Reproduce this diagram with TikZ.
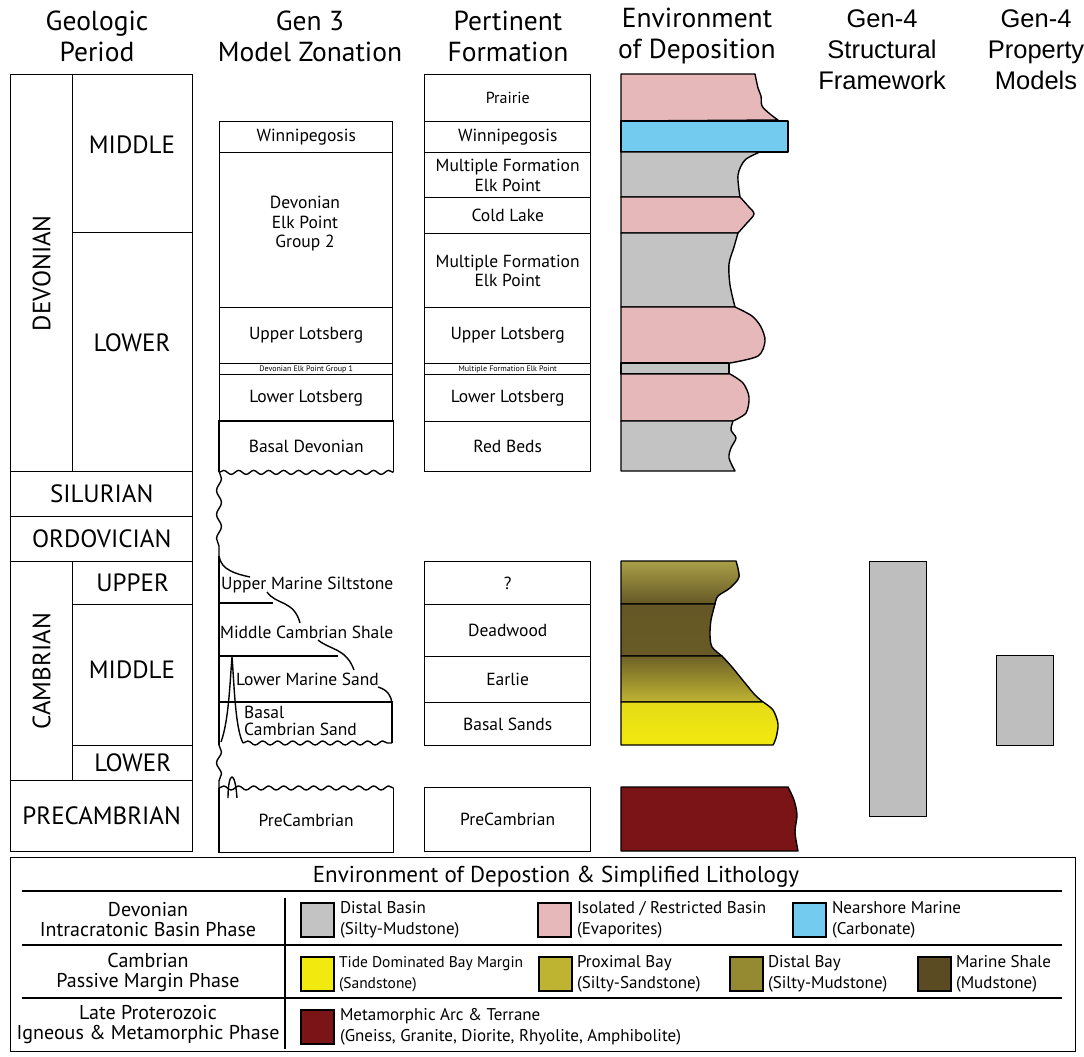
\documentclass[tikz,border=0pt]{standalone}
\usepackage{fontspec}
\setmainfont{PT Sans}
\newfontfamily\arialfont{Liberation Sans}
\usepackage{xcolor}
\definecolor{cGrey}{HTML}{C4C3C3}
\definecolor{cPink}{HTML}{E6B8BA}
\definecolor{cBlue}{HTML}{74CBF0}
\definecolor{cSand}{HTML}{F2E90F}
\definecolor{cProx}{HTML}{BFB432}
\definecolor{cDistBay}{HTML}{958A32}
\definecolor{cShale}{HTML}{5A4B23}
\definecolor{cMeta}{HTML}{7A1416}
\definecolor{cGenFour}{HTML}{BEBEBE}
\usetikzlibrary{positioning,decorations.pathmorphing}
\newcommand\fsize[2]{\fontsize{#1}{#2}\selectfont}
\tikzset{
  cell/.style={draw,line width=1.4pt,anchor=north west,inner sep=0pt,
    align=center,font=\fsize{17.5}{19.5}},
  period-cell/.style={cell,font=\fsize{25}{29}},
  period-label/.style={font=\fsize{25}{29}},
  col-header/.style={align=center,font=\fsize{27.5}{31}},
  gen-header/.style={align=center,font=\arialfont\fsize{25.5}{31}},
  env-band/.style={draw,line width=1.4pt,line join=round},
  contact/.style={line width=1.4pt},
  wavy/.style={line width=1.4pt,decorate,
    decoration={snake,amplitude=2pt,segment length=15pt}},
  legend-swatch/.style={draw,line width=1.8pt,anchor=north west,
    minimum width=33,minimum height=34,inner sep=0pt},
  legend-text/.style={anchor=west,align=left,inner sep=0pt,font=\fsize{17}{21}},
  legend-text-small/.style={legend-text,font=\fsize{15.5}{21}},
  phase-text/.style={align=center,font=\fsize{20}{20}},
}
\begin{document}
\begin{tikzpicture}[x=1pt,y=-1pt]
  \useasboundingbox (0,0) rectangle (1084,1057);

  % column headers
  \node[col-header] (h-period) at (97,36) {Geologic\\Period};
  \node[col-header] (h-gen3) at (310,36) {Gen 3\\Model Zonation};
  \node[col-header] (h-form) at (508,36) {Pertinent\\Formation};
  \node[col-header] (h-env) at (697,36) {Environment\\of Deposition};
  \begin{scope}
    \clip (800,0) rectangle (945,110);
    \node[gen-header] (h-struct) at (882,50) {Gen-4\\Structural\\Framework};
  \end{scope}
  \node[gen-header] (h-prop) at (1036,50) {Gen-4\\Property\\Models};

  % geologic period
  \node[period-cell,minimum width=62,minimum height=397] (devonian) at (10,74) {};
  \node[period-label,rotate=90] (devonian-lbl) at (devonian.center) {DEVONIAN};
  \node[period-cell,minimum width=120,minimum height=158] (dev-mid) at (72,74) {};
  \node[period-label] (dev-mid-lbl) at (132,145) {MIDDLE};
  \node[period-cell,minimum width=120,minimum height=239] (dev-low) at (72,232) {};
  \node[period-label] (dev-low-lbl) at (132,343) {LOWER};
  \node[period-cell,minimum width=182,minimum height=45] (silurian) at (10,471) {SILURIAN};
  \node[period-cell,minimum width=182,minimum height=45] (ordovician) at (10,516) {ORDOVICIAN};
  \node[period-cell,minimum width=62,minimum height=219] (cambrian) at (10,561) {};
  \node[period-label,rotate=90] (cambrian-lbl) at (cambrian.center) {CAMBRIAN};
  \node[period-cell,minimum width=120,minimum height=43] (camb-up) at (72,561) {UPPER};
  \node[period-cell,minimum width=120,minimum height=141] (camb-mid) at (72,604) {};
  \node[period-label] (camb-mid-lbl) at (132,670) {MIDDLE};
  \node[period-cell,minimum width=120,minimum height=35] (camb-low) at (72,745) {LOWER};
  \node[period-cell,minimum width=182,minimum height=71] (precambrian) at (10,780) {PRECAMBRIAN};

  % gen 3 model zonation
  \node[cell,minimum width=173,minimum height=31] (g3-winni) at (219,121) {Winnipegosis};
  \node[cell,minimum width=173,minimum height=155] (g3-ep2) at (219,152) {};
  \node[align=center,font=\fsize{17.5}{19.5}] (g3-ep2-lbl) at (305,224) {Devonian\\Elk Point\\Group 2};
  \node[cell,minimum width=173,minimum height=56] (g3-ulots) at (219,307) {Upper Lotsberg};
  \node[cell,minimum width=173,minimum height=11,font=\fsize{8}{9}] (g3-ep1) at (219,363) {Devonian Elk Point Group 1};
  \node[cell,minimum width=173,minimum height=47] (g3-llots) at (219,374) {Lower Lotsberg};
  \node[cell,draw=none,minimum width=173,minimum height=50] (g3-basal) at (219,421) {Basal Devonian};
  \draw[contact] (g3-basal.south west) -- (g3-basal.north west) -- (g3-basal.north east) -- (g3-basal.south east);
  \draw[wavy] (g3-basal.south west) -- (g3-basal.south east);
  % onlapping cambrian units
  \draw[wavy,decoration={amplitude=2.5pt,segment length=24pt}] (219,471) -- (219,556);
  \draw[contact] (219,556) -- (219,745);
  \draw[contact] (219,556) .. controls (221,570) and (236,574) .. (250,577);
  \draw[contact] (267,592) .. controls (276,605) and (294,600) .. (300,623);
  \draw[contact] (318,640) .. controls (330,650) and (346,648) .. (354,670);
  \draw[contact] (378,687) .. controls (388,690) and (391,696) .. (392,703);
  \draw[contact] (219,603) -- (273,603);
  \draw[contact] (219,656) -- (338,656);
  \draw[contact] (219,702) -- (392,702) -- (392,743);
  \draw[contact] (221,742) .. controls (229,720) and (230,680) .. (232,657)
    .. controls (234,680) and (235,728) .. (243,743);
  \draw[wavy] (243,743) -- (392,743);
  \draw[wavy,decoration={amplitude=2.5pt,segment length=22pt}] (219,745) -- (219,788);
  \draw[contact] (228,798) .. controls (228,784) and (230,777) .. (232,777)
    .. controls (234,777) and (236,784) .. (237,798);
  \node[anchor=west,inner sep=1pt,font=\fsize{17.5}{19}] (g3-ums) at (220,585) {Upper Marine Siltstone};
  \node[anchor=west,inner sep=1pt,font=\fsize{17.5}{19}] (g3-mcs) at (219,632) {Middle Cambrian Shale};
  \node[anchor=west,inner sep=1pt,font=\fsize{17.5}{19}] (g3-lms) at (235,679) {Lower Marine Sand};
  \node[anchor=west,align=left,inner sep=1pt,font=\fsize{17.5}{17}] (g3-bcs) at (243,721) {Basal\\Cambrian Sand};
  \node[cell,draw=none,minimum width=173,minimum height=63] (g3-pc) at (219,788) {PreCambrian};
  \draw[contact] (g3-pc.north west) -- (g3-pc.south west) -- (g3-pc.south east) -- (g3-pc.north east);
  \draw[wavy] (g3-pc.north west) -- (g3-pc.north east);

  % pertinent formation
  \node[cell,minimum width=166,minimum height=47,font=\fsize{16}{18}] (f-prairie) at (424,74) {Prairie};
  \node[cell,minimum width=166,minimum height=31] (f-winni) at (424,121) {Winnipegosis};
  \node[cell,minimum width=166,minimum height=45] (f-mfep1) at (424,152) {Multiple Formation\\Elk Point};
  \node[cell,minimum width=166,minimum height=36] (f-cold) at (424,197) {Cold Lake};
  \node[cell,minimum width=166,minimum height=74] (f-mfep2) at (424,233) {Multiple Formation\\Elk Point};
  \node[cell,minimum width=166,minimum height=56] (f-ulots) at (424,307) {Upper Lotsberg};
  \node[cell,minimum width=166,minimum height=11,font=\fsize{8}{9}] (f-mfep3) at (424,363) {Multiple Formation Elk Point};
  \node[cell,minimum width=166,minimum height=47] (f-llots) at (424,374) {Lower Lotsberg};
  \node[cell,minimum width=166,minimum height=50] (f-red) at (424,421) {Red Beds};
  \node[cell,minimum width=166,minimum height=43] (f-unk) at (424,561) {?};
  \node[cell,minimum width=166,minimum height=52] (f-dead) at (424,604) {Deadwood};
  \node[cell,minimum width=166,minimum height=46] (f-earlie) at (424,656) {Earlie};
  \node[cell,minimum width=166,minimum height=43] (f-basal) at (424,702) {Basal Sands};
  \node[cell,minimum width=166,minimum height=64] (f-pc) at (424,787) {PreCambrian};

  % environment of deposition
  \draw[env-band,fill=cPink] (621,121) -- (621,74) -- (755,74)
    -- plot[smooth] coordinates {(755,74) (758,88) (761,96) (762,106) (770,114) (778,120)} -- cycle;
  \draw[env-band,fill=cBlue] (621,121) rectangle (788,152);
  \draw[env-band,fill=cGrey] (621,197) -- (621,152) -- (760,152)
    -- plot[smooth] coordinates {(760,152) (745,160) (738,175) (740,197)} -- cycle;
  \draw[env-band,fill=cPink] (621,233) -- (621,197) -- (740,197)
    -- plot[smooth] coordinates {(740,197) (748,206) (754,214) (746,224) (738,233)} -- cycle;
  \draw[env-band,fill=cGrey] (621,307) -- (621,233) -- (738,233)
    -- plot[smooth] coordinates {(738,233) (734,247) (729,264) (730,285) (735,307)} -- cycle;
  \draw[env-band,fill=cPink] (621,363) -- (621,307) -- (735,307)
    -- plot[smooth] coordinates {(735,307) (752,316) (761,327) (765,341) (758,356) (730,363)} -- cycle;
  \draw[env-band,fill=cGrey] (621,363) rectangle (729,374);
  \draw[env-band,fill=cPink] (621,421) -- (621,374) -- (730,374)
    -- plot[smooth] coordinates {(730,374) (743,383) (749,397) (746,413) (733,421)} -- cycle;
  \draw[env-band,fill=cGrey] (621,471) -- (621,421) -- (733,421)
    -- plot[smooth] coordinates {(733,421) (731,430) (736,438) (731,448) (729,458) (735,471)} -- cycle;
  % cambrian bay fill
  \draw[env-band,top color=cDistBay!75!cProx!90!white,bottom color=cShale!80!cDistBay] (621,604) -- (621,561) -- (736,561)
    -- plot[smooth] coordinates {(736,561) (739,577) (730,588) (718,596) (715,604)} -- cycle;
  \draw[env-band,top color=cShale!80!cDistBay,middle color=cShale,bottom color=cShale!75!cDistBay] (621,656) -- (621,604) -- (715,604)
    -- plot[smooth] coordinates {(715,604) (711,620) (710,635) (712,647) (722,656)} -- cycle;
  \draw[env-band,top color=cShale!65!cDistBay,bottom color=cProx] (621,702) -- (621,656) -- (722,656)
    -- plot[smooth] coordinates {(722,656) (732,667) (745,683) (755,695) (763,702)} -- cycle;
  \draw[env-band,top color=cSand!75!cProx,bottom color=cSand] (621,745) -- (621,702) -- (763,702)
    -- plot[smooth] coordinates {(763,702) (773,710) (778,724) (776,738) (773,745)} -- cycle;
  \draw[env-band,fill=cMeta] (621,851) -- (621,787) -- (788,787)
    -- plot[smooth] coordinates {(788,787) (794,800) (797,815) (795,832) (798,851)} -- cycle;

  % gen-4 models
  \node[cell,fill=cGenFour,minimum width=57,minimum height=255] (g4-struct) at (869,561) {};
  \node[cell,fill=cGenFour,minimum width=57,minimum height=90] (g4-prop) at (996,655) {};

  % legend
  \node[draw,line width=1.4pt,anchor=north west,inner sep=0pt,minimum width=1065,minimum height=194] (legend) at (10,857) {};
  \node[font=\fsize{23}{26}] (leg-title) at (556,877) {Environment of Depostion \& Simplified Lithology};
  \draw[contact] (22,891) -- (1062,891);
  \draw[contact] (22,945) -- (1062,945);
  \draw[contact] (22,998) -- (1062,998);
  \draw[line width=1.2pt] (285,898) -- (285,1049);
  \node[phase-text] (ph-dev) at (148,920) {Devonian\\Intracratonic Basin Phase};
  \node[phase-text] (ph-camb) at (148,972) {Cambrian\\Passive Margin Phase};
  \node[phase-text] (ph-prot) at (148,1025) {Late Proterozoic\\Igneous \& Metamorphic Phase};

  \node[legend-swatch,fill=cGrey] (sw-distal) at (300,902) {};
  \node[legend-text,right=5pt of sw-distal] (lt-distal) {Distal Basin\\(Silty-Mudstone)};
  \node[legend-swatch,fill=cPink] (sw-iso) at (537,902) {};
  \node[legend-text,right=5pt of sw-iso] (lt-iso) {Isolated / Restricted Basin\\(Evaporites)};
  \node[legend-swatch,fill=cBlue] (sw-near) at (792,902) {};
  \node[legend-text,right=5pt of sw-near] (lt-near) {Nearshore Marine\\(Carbonate)};

  \node[legend-swatch,fill=cSand] (sw-tide) at (300,956) {};
  \node[legend-text-small,right=4pt of sw-tide] (lt-tide) {Tide Dominated Bay Margin\\(Sandstone)};
  \node[legend-swatch,fill=cProx] (sw-prox) at (538,956) {};
  \node[legend-text,right=4pt of sw-prox] (lt-prox) {Proximal Bay\\(Silty-Sandstone)};
  \node[legend-swatch,fill=cDistBay] (sw-dbay) at (729,956) {};
  \node[legend-text,right=4pt of sw-dbay] (lt-dbay) {Distal Bay\\(Silty-Mudstone)};
  \node[legend-swatch,fill=cShale] (sw-shale) at (917,956) {};
  \node[legend-text,right=4pt of sw-shale] (lt-shale) {Marine Shale\\(Mudstone)};

  \node[legend-swatch,fill=cMeta] (sw-meta) at (300,1009) {};
  \node[legend-text,right=5pt of sw-meta] (lt-meta) {Metamorphic Arc \& Terrane\\(Gneiss, Granite, Diorite, Rhyolite, Amphibolite)};
\end{tikzpicture}
\end{document}
